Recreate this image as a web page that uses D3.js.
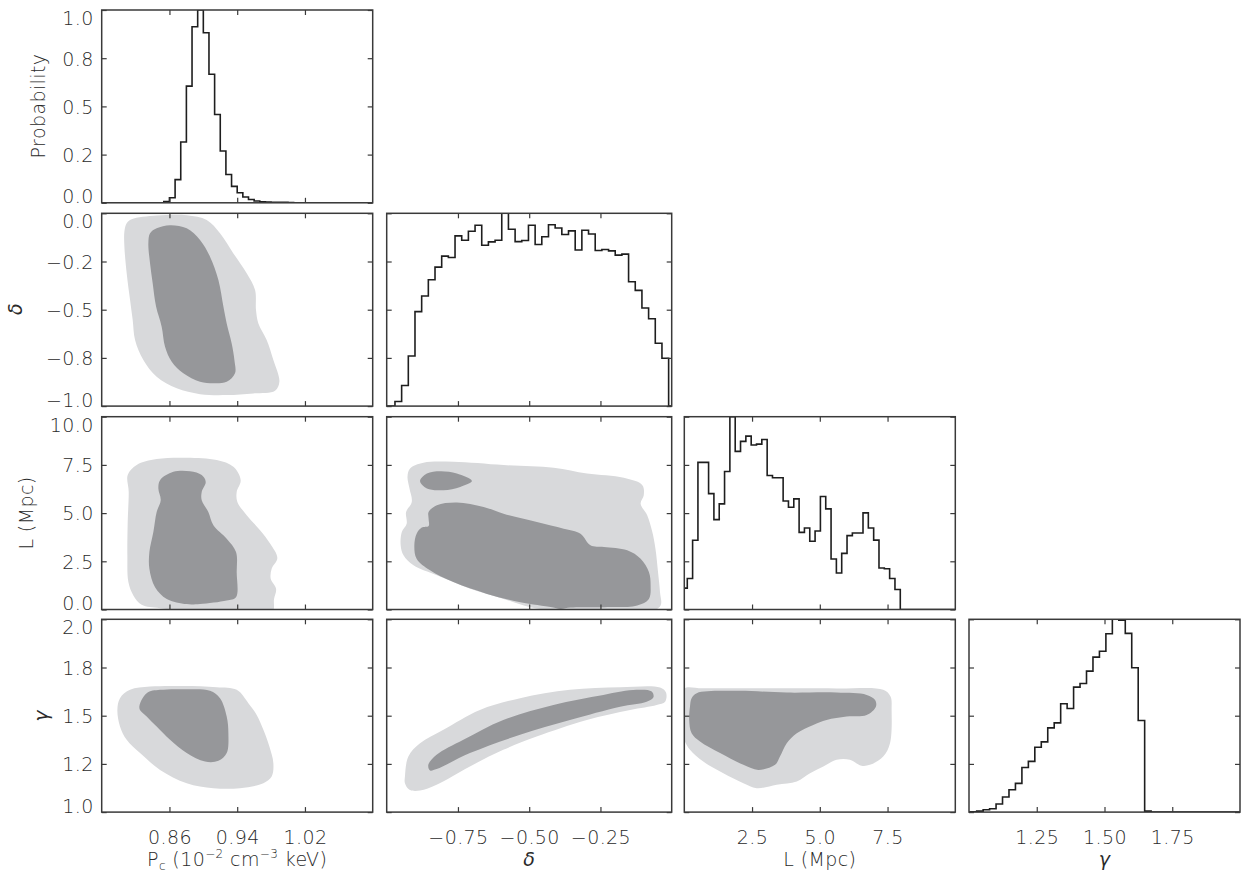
<!DOCTYPE html>
<meta charset="utf-8">
<head>
	<script src="https://d3js.org/d3.v7.min.js"></script>
</head>
<style>
	body { margin: 0; background: #fff; }
	text {
		font-family: "DejaVu Sans", "Liberation Sans", sans-serif;
		font-weight: 200;
		font-size: 19px;
		fill: #2a2a2a;
		letter-spacing: 0.4px;
	}
	.greek { font-style: italic; }
	.frame { fill: none; stroke: #3a3a3a; stroke-width: 1.5px; }
	.tick line { stroke: #3a3a3a; stroke-width: 1.2px; }
	.hist { fill: none; stroke: #1e1e1e; stroke-width: 1.6px; }
	.c95 { fill: #d8d9db; }
	.c68 { fill: #96979a; }
</style>
<body>
<script>
	// ***** axis ranges and ticks (Pc, delta, L, gamma) *****
	var ranges = [[0.78, 1.10], [-1, 0], [0, 10], [1, 2]];
	var xTickValues = [[0.86, 0.94, 1.02], [-0.75, -0.50, -0.25], [2.5, 5.0, 7.5], [1.25, 1.50, 1.75]];
	var xTickLabels = [["0.86", "0.94", "1.02"], ["−0.75", "−0.50", "−0.25"], ["2.5", "5.0", "7.5"], ["1.25", "1.50", "1.75"]];
	var probTicks = [0, 0.25, 0.5, 0.75, 1];
	var yTickValues = [[0, 0.25, 0.5, 0.75, 1], [-1, -0.75, -0.5, -0.25, 0], [0, 2.5, 5, 7.5, 10], [1, 1.25, 1.5, 1.75, 2]];
	var yTickLabels = [["0.0", "0.2", "0.5", "0.8", "1.0"], ["−1.0", "−0.8", "−0.5", "−0.2", "0.0"],
		["0.0", "2.5", "5.0", "7.5", "10.0"], ["1.0", "1.2", "1.5", "1.8", "2.0"]];

	// ***** marginal histograms: first bin edge, bin width, normalised heights *****
	var histPcStart = 0.78, histPcWidth = 0.32 / 48;
	var histPc = [0, 0, 0, 0, 0, 0, 0, 0, 0, 0, 0, 0.007, 0.026, 0.12, 0.315, 0.605, 0.913, 1.0, 0.882, 0.667,
		0.458, 0.269, 0.147, 0.085, 0.052, 0.03, 0.017, 0.009, 0.005, 0.004, 0.003, 0.002, 0.002, 0.001, 0];
	var histDeltaStart = -0.971, histDeltaWidth = 0.02342;
	var histDelta = [0.024, 0.107, 0.260, 0.490, 0.571, 0.655, 0.721, 0.778, 0.771, 0.883, 0.860, 0.907, 0.938,
		0.834, 0.852, 0.860, 1.0, 0.917, 0.853, 0.859, 0.938, 0.838, 0.878, 0.941, 0.924, 0.890, 0.909, 0.810,
		0.912, 0.893, 0.807, 0.812, 0.805, 0.783, 0.788, 0.645, 0.600, 0.509, 0.453, 0.326, 0.248];
	var histLStart = -0.0865, histLWidth = 0.1965;
	var histL = [0.111, 0.161, 0.359, 0.763, 0.763, 0.601, 0.466, 0.548, 0.716, 1.0, 0.820, 0.872, 0.899, 0.853,
		0.858, 0.882, 0.695, 0.683, 0.683, 0.563, 0.530, 0.574, 0.400, 0.423, 0.354, 0.407, 0.586, 0.522, 0.262,
		0.189, 0.291, 0.383, 0.397, 0.397, 0.501, 0.423, 0.360, 0.215, 0.211, 0.161, 0.104];
	var histGammaStart = 1.0045, histGammaWidth = 0.02384;
	var histGamma = [0.002, 0.005, 0.012, 0.017, 0.042, 0.078, 0.116, 0.149, 0.231, 0.263, 0.336, 0.364, 0.437,
		0.463, 0.562, 0.537, 0.648, 0.667, 0.731, 0.804, 0.834, 0.925, 1.0, 0.995, 0.927, 0.749, 0.475, 0.005];

	// ***** credible regions (95% light, 68% dark), [x, y] in data units *****
	var pcDelta95 = [[0.8154,-0.031],[0.8449,-0.012],[0.8804,-0.010],[0.9040,-0.035],[0.9197,-0.104],[0.9355,-0.208],
		[0.9512,-0.311],[0.9611,-0.398],[0.9622,-0.502],[0.9650,-0.571],[0.9748,-0.657],[0.9827,-0.761],[0.9898,-0.874],
		[0.9847,-0.920],[0.9591,-0.934],[0.9276,-0.943],[0.8961,-0.938],[0.8686,-0.908],[0.8449,-0.848],[0.8292,-0.761],
		[0.8194,-0.657],[0.8166,-0.554],[0.8135,-0.450],[0.8095,-0.311],[0.8068,-0.173],[0.8068,-0.095],[0.8095,-0.052]];
	var pcDelta68 = [[0.8449,-0.078],[0.8607,-0.062],[0.8804,-0.078],[0.8961,-0.138],[0.9079,-0.225],[0.9178,-0.346],
		[0.9237,-0.484],[0.9276,-0.571],[0.9335,-0.675],[0.9367,-0.761],[0.9374,-0.830],[0.9276,-0.874],[0.9119,-0.882],
		[0.8961,-0.874],[0.8764,-0.830],[0.8627,-0.770],[0.8548,-0.692],[0.8508,-0.588],[0.8442,-0.484],[0.8402,-0.363],
		[0.8371,-0.260],[0.8351,-0.156],[0.8371,-0.104]];
	var pcL95 = [[0.8107,6.97],[0.8213,7.49],[0.8449,7.80],[0.8804,7.87],[0.9158,7.75],[0.9355,7.40],[0.9441,6.71],
		[0.9394,6.10],[0.9402,5.58],[0.9512,4.89],[0.9670,4.11],[0.9788,3.42],[0.9874,2.67],[0.9807,2.11],[0.9796,1.59],
		[0.9859,1.07],[0.9835,0.55],[0.9807,-0.2],[0.8961,-0.1],[0.8489,0.07],[0.8272,0.24],[0.8174,0.73],[0.8115,1.42],
		[0.8103,2.81],[0.8107,4.54],[0.8119,6.10]];
	var pcL68 = [[0.8489,6.71],[0.8646,7.14],[0.8843,7.17],[0.8981,6.97],[0.9028,6.62],[0.8981,6.10],[0.8981,5.67],
		[0.9059,5.06],[0.9119,4.37],[0.9276,3.67],[0.9386,2.98],[0.9394,1.94],[0.9386,0.64],[0.9276,0.47],[0.8961,0.29],
		[0.8804,0.28],[0.8568,0.55],[0.8430,1.16],[0.8363,2.11],[0.8363,2.98],[0.8410,4.02],[0.8449,5.06],[0.8497,5.67],
		[0.8469,6.27]];
	var pcGamma95 = [[0.7985,1.530],[0.8016,1.591],[0.8135,1.634],[0.8371,1.651],[0.8764,1.654],[0.9158,1.648],
		[0.9394,1.634],[0.9532,1.565],[0.9630,1.504],[0.9709,1.427],[0.9780,1.340],[0.9827,1.254],[0.9807,1.185],
		[0.9709,1.150],[0.9433,1.124],[0.9119,1.124],[0.8804,1.150],[0.8489,1.219],[0.8253,1.306],[0.8095,1.375],
		[0.8016,1.444]];
	var pcGamma68 = [[0.8245,1.539],[0.8331,1.617],[0.8489,1.634],[0.8804,1.637],[0.9079,1.629],[0.9197,1.591],
		[0.9276,1.496],[0.9296,1.409],[0.9276,1.306],[0.9178,1.266],[0.9020,1.262],[0.8804,1.306],[0.8607,1.375],
		[0.8449,1.444],[0.8331,1.496]];
	var deltaL95 = [[-0.927,6.88],[-0.918,7.31],[-0.871,7.61],[-0.766,7.66],[-0.590,7.49],[-0.414,7.35],[-0.297,7.05],
		[-0.168,6.83],[-0.103,6.45],[-0.098,5.93],[-0.109,5.49],[-0.086,4.89],[-0.068,4.02],[-0.057,3.15],[-0.048,1.94],
		[-0.041,0.90],[-0.039,0.21],[-0.074,-0.1],[-0.238,-0.05],[-0.402,-0.05],[-0.496,0.12],[-0.590,0.55],[-0.707,1.07],
		[-0.824,1.77],[-0.906,2.29],[-0.941,2.81],[-0.951,3.33],[-0.947,4.02],[-0.930,4.45],[-0.932,5.06],[-0.912,5.58],
		[-0.920,6.27]];
	var deltaL68 = [[-0.853,5.06],[-0.824,5.41],[-0.754,5.55],[-0.660,5.32],[-0.590,4.97],[-0.473,4.54],[-0.379,4.19],
		[-0.320,3.93],[-0.285,3.33],[-0.238,3.24],[-0.156,3.07],[-0.109,2.63],[-0.080,1.94],[-0.074,1.25],[-0.080,0.55],
		[-0.121,0.21],[-0.238,0.12],[-0.355,0.10],[-0.391,0.03],[-0.420,0.12],[-0.531,0.38],[-0.648,0.81],[-0.766,1.42],
		[-0.848,2.03],[-0.895,2.63],[-0.903,3.33],[-0.895,3.93],[-0.877,4.25],[-0.853,4.33],[-0.853,4.71]];
	var deltaL68b = [[-0.883,6.66],[-0.859,7.05],[-0.812,7.17],[-0.754,7.05],[-0.701,6.66],[-0.742,6.36],
		[-0.801,6.19],[-0.859,6.27]];
	var deltaGamma95 = [[-0.936,1.185],[-0.924,1.289],[-0.883,1.357],[-0.801,1.427],[-0.673,1.530],[-0.532,1.591],
		[-0.357,1.634],[-0.181,1.648],[-0.041,1.646],[-0.020,1.620],[-0.023,1.573],[-0.053,1.556],[-0.146,1.530],
		[-0.298,1.478],[-0.474,1.392],[-0.591,1.323],[-0.708,1.237],[-0.825,1.142],[-0.883,1.112],[-0.920,1.116],
		[-0.936,1.150]];
	var deltaGamma68 = [[-0.854,1.245],[-0.825,1.297],[-0.731,1.375],[-0.591,1.478],[-0.415,1.556],[-0.240,1.608],
		[-0.123,1.634],[-0.070,1.625],[-0.064,1.596],[-0.088,1.573],[-0.181,1.547],[-0.357,1.478],[-0.532,1.401],
		[-0.708,1.306],[-0.825,1.223],[-0.848,1.216]];
	var lGamma95 = [[-0.04,1.637],[0.70,1.642],[3.16,1.642],[5.62,1.641],[7.34,1.634],[7.61,1.599],[7.65,1.530],
		[7.59,1.357],[7.34,1.288],[6.85,1.245],[6.54,1.240],[6.11,1.271],[5.62,1.271],[5.13,1.237],[4.64,1.202],
		[4.15,1.159],[3.41,1.142],[2.67,1.124],[2.18,1.150],[1.44,1.202],[0.70,1.262],[0.21,1.323],[0.02,1.366],
		[-0.06,1.392]];
	var lGamma68 = [[0.21,1.548],[0.27,1.591],[0.46,1.617],[1.93,1.629],[3.78,1.620],[5.62,1.620],[6.73,1.608],
		[7.04,1.582],[7.07,1.547],[6.73,1.504],[5.99,1.496],[5.25,1.478],[4.76,1.452],[4.15,1.409],[3.78,1.357],
		[3.53,1.288],[3.35,1.245],[2.73,1.219],[2.18,1.245],[1.32,1.306],[0.58,1.366],[0.27,1.409],[0.18,1.478]];

	// ***** layout *****
	var colX = [101.7, 386.7, 684.3, 969], colW = [271, 285, 271, 271];
	var rowY = [10, 213.3, 416.7, 619.3], rowH = 192.8;

	var hists = [
		{ start: histPcStart, width: histPcWidth, values: histPc },
		{ start: histDeltaStart, width: histDeltaWidth, values: histDelta },
		{ start: histLStart, width: histLWidth, values: histL },
		{ start: histGammaStart, width: histGammaWidth, values: histGamma }
	];
	var regions = {
		"1,0": [[pcDelta95], [pcDelta68]],
		"2,0": [[pcL95], [pcL68]],
		"3,0": [[pcGamma95], [pcGamma68]],
		"2,1": [[deltaL95], [deltaL68, deltaL68b]],
		"3,1": [[deltaGamma95], [deltaGamma68]],
		"3,2": [[lGamma95], [lGamma68]]
	};

	var svg = d3.select("body").append("svg")
		.attr("width", 1242)
		.attr("height", 878);
	var defs = svg.append("defs");

	function drawPanel(r, c) {
		var w = colW[c], h = rowH;
		var g = svg.append("g")
			.attr("transform", "translate(" + colX[c] + "," + rowY[r] + ")");
		var id = "clip" + r + c;
		defs.append("clipPath").attr("id", id)
			.append("rect").attr("width", w).attr("height", h);

		var x = d3.scaleLinear().domain(ranges[c]).range([0, w]);
		var y = d3.scaleLinear().domain(r === c ? [0, 1] : ranges[r]).range([h, 0]);
		var plot = g.append("g").attr("clip-path", "url(#" + id + ")");

		if (r === c) {
			var hd = hists[c], pts = [[ranges[c][0], 0], [hd.start, 0]];
			hd.values.forEach(function(v, i) {
				pts.push([hd.start + i * hd.width, v]);
				pts.push([hd.start + (i + 1) * hd.width, v]);
			});
			pts.push([hd.start + hd.values.length * hd.width, 0]);
			pts.push([ranges[c][1], 0]);
			plot.append("path")
				.attr("class", "hist")
				.attr("d", d3.line().x(function(d) { return x(d[0]); }).y(function(d) { return y(d[1]); })(pts));
		} else {
			var shape = d3.line()
				.curve(d3.curveCatmullRomClosed.alpha(0.5))
				.x(function(d) { return x(d[0]); })
				.y(function(d) { return y(d[1]); });
			var reg = regions[r + "," + c];
			reg[0].forEach(function(p) { plot.append("path").attr("class", "c95").attr("d", shape(p)); });
			reg[1].forEach(function(p) { plot.append("path").attr("class", "c68").attr("d", shape(p)); });
		}

		// ticks on all four sides, pointing inward
		var yVals = r === c ? probTicks : yTickValues[r];
		var bottom = g.append("g").attr("transform", "translate(0," + h + ")")
			.call(d3.axisBottom(x).tickValues(xTickValues[c]).tickSize(-5).tickPadding(18)
				.tickFormat(function(d, i) { return r === 3 ? xTickLabels[c][i] : ""; }));
		var top = g.append("g")
			.call(d3.axisTop(x).tickValues(xTickValues[c]).tickSize(-5).tickFormat(""));
		var left = g.append("g")
			.call(d3.axisLeft(y).tickValues(yVals).tickSize(-5).tickPadding(8)
				.tickFormat(function(d, i) { return c === 0 ? yTickLabels[r][i] : ""; }));
		var right = g.append("g").attr("transform", "translate(" + w + ",0)")
			.call(d3.axisRight(y).tickValues(yVals).tickSize(-5).tickFormat(""));
		[bottom, top, left, right].forEach(function(a) { a.select(".domain").remove(); });

		// first and last y labels sit inside the frame
		left.selectAll(".tick text")
			.attr("dy", function(d, i) { return i === 4 ? "0.76em" : (i === 0 ? "0em" : "0.36em"); });

		g.append("rect").attr("class", "frame").attr("width", w).attr("height", h);
	}

	for (var r = 0; r < 4; r++) {
		for (var c = 0; c <= r; c++) drawPanel(r, c);
	}

	// ***** axis titles *****
	function yTitle(x, y, txt, cls) {
		svg.append("text")
			.attr("class", cls || null)
			.attr("text-anchor", "middle")
			.attr("transform", "translate(" + x + "," + y + ") rotate(-90)")
			.attr("dy", "0.35em")
			.text(txt);
	}
	yTitle(38, 106, "Probability");
	yTitle(15, 309, "δ", "greek");
	yTitle(26, 513, "L (Mpc)");
	yTitle(41, 716, "γ", "greek");

	var pcTitle = svg.append("text")
		.attr("text-anchor", "middle")
		.attr("x", colX[0] + colW[0] / 2)
		.attr("y", 866);
	pcTitle.append("tspan").text("P");
	pcTitle.append("tspan").attr("dy", 4).style("font-size", "12px").text("c");
	pcTitle.append("tspan").attr("dy", -4).text(" (10");
	pcTitle.append("tspan").attr("dy", -8).style("font-size", "12px").text("−2");
	pcTitle.append("tspan").attr("dy", 8).text(" cm");
	pcTitle.append("tspan").attr("dy", -8).style("font-size", "12px").text("−3");
	pcTitle.append("tspan").attr("dy", 8).text(" keV)");

	svg.append("text").attr("class", "greek").attr("text-anchor", "middle")
		.attr("x", colX[1] + colW[1] / 2).attr("y", 866).text("δ");
	svg.append("text").attr("text-anchor", "middle")
		.attr("x", colX[2] + colW[2] / 2).attr("y", 866).text("L (Mpc)");
	svg.append("text").attr("class", "greek").attr("text-anchor", "middle")
		.attr("x", colX[3] + colW[3] / 2).attr("y", 866).text("γ");
</script>
</body>
